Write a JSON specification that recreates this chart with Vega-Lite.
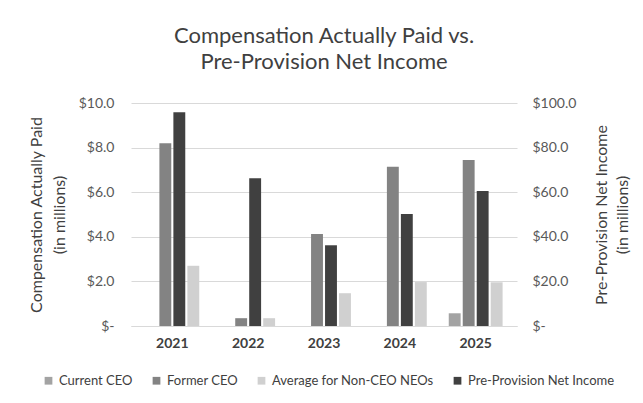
{
  "$schema": "https://vega.github.io/schema/vega-lite/v6.json",
  "autosize": "none",
  "width": 386,
  "height": 223,
  "padding": {"left": 131, "top": 103, "right": 126, "bottom": 77},
  "background": "white",
  "config": {
    "font": "Lato",
    "view": {"stroke": null},
    "axis": {"labelFont": "Lato", "titleFont": "Lato", "labelColor": "#595959", "titleColor": "#404040"}
  },
  "title": {
    "text": ["Compensation Actually Paid vs.", "Pre-Provision Net Income"],
    "fontSize": 22,
    "fontWeight": "normal",
    "color": "#404040",
    "font": "Lato",
    "lineHeight": 26,
    "offset": 22,
    "anchor": "middle"
  },
  "data": {
    "values": [
      {"year": "2021", "series": "Current CEO", "value": 0},
      {"year": "2021", "series": "Former CEO", "value": 8.2},
      {"year": "2021", "series": "Average for Non-CEO NEOs", "value": 2.7},
      {"year": "2021", "series": "Pre-Provision Net Income", "value": 95.8},
      {"year": "2022", "series": "Current CEO", "value": 0},
      {"year": "2022", "series": "Former CEO", "value": 0.35},
      {"year": "2022", "series": "Average for Non-CEO NEOs", "value": 0.35},
      {"year": "2022", "series": "Pre-Provision Net Income", "value": 66.2},
      {"year": "2023", "series": "Current CEO", "value": 0},
      {"year": "2023", "series": "Former CEO", "value": 4.13},
      {"year": "2023", "series": "Average for Non-CEO NEOs", "value": 1.47},
      {"year": "2023", "series": "Pre-Provision Net Income", "value": 36.2},
      {"year": "2024", "series": "Current CEO", "value": 0},
      {"year": "2024", "series": "Former CEO", "value": 7.14},
      {"year": "2024", "series": "Average for Non-CEO NEOs", "value": 1.97},
      {"year": "2024", "series": "Pre-Provision Net Income", "value": 50.2},
      {"year": "2025", "series": "Current CEO", "value": 0.57},
      {"year": "2025", "series": "Former CEO", "value": 7.44},
      {"year": "2025", "series": "Average for Non-CEO NEOs", "value": 1.96},
      {"year": "2025", "series": "Pre-Provision Net Income", "value": 60.5}
    ]
  },
  "encoding": {
    "x": {
      "field": "year", "type": "nominal",
      "scale": {"paddingInner": 0.29, "paddingOuter": 0.19},
      "axis": {
        "title": null, "labelAngle": 0, "labelFontSize": 14, "labelFontWeight": "bold",
        "labelColor": "#404040", "ticks": false, "domainColor": "#d9d9d9", "labelPadding": 10
      }
    },
    "xOffset": {
      "field": "series", "type": "nominal",
      "scale": {"domain": ["Current CEO", "Former CEO", "Pre-Provision Net Income", "Average for Non-CEO NEOs"], "paddingInner": 0.15}
    },
    "color": {
      "field": "series", "type": "nominal",
      "scale": {
        "domain": ["Current CEO", "Former CEO", "Average for Non-CEO NEOs", "Pre-Provision Net Income"],
        "range": ["#a3a3a3", "#838383", "#d0d0d0", "#404040"]
      },
      "legend": {
        "title": null, "orient": "none", "legendX": -89, "legendY": 271, "direction": "horizontal",
        "symbolType": "square", "symbolSize": 60, "labelFontSize": 13, "labelColor": "#404040",
        "labelFont": "Lato", "labelLimit": 0, "columnPadding": 17, "symbolOffset": 0
      }
    }
  },
  "layer": [
    {
      "transform": [{"filter": "datum.series !== 'Pre-Provision Net Income'"}],
      "mark": {"type": "bar"},
      "encoding": {
        "y": {
          "field": "value", "type": "quantitative",
          "scale": {"domain": [0, 10], "nice": false},
          "axis": {
            "title": ["Compensation Actually Paid", "(in millions)"],
            "titleFontSize": 16, "titleFontWeight": "normal", "titleLineHeight": 23,
            "labelFontSize": 14, "labelPadding": 17, "titlePadding": 11,
            "values": [0, 2, 4, 6, 8, 10],
            "labelExpr": "datum.value == 0 ? '$-' : '$' + format(datum.value, '.1f')",
            "grid": true, "gridColor": "#d9d9d9", "ticks": false, "domain": false
          }
        }
      }
    },
    {
      "transform": [{"filter": "datum.series === 'Pre-Provision Net Income'"}],
      "mark": {"type": "bar"},
      "encoding": {
        "y": {
          "field": "value", "type": "quantitative",
          "scale": {"domain": [0, 100], "nice": false},
          "axis": {
            "orient": "right",
            "title": ["Pre-Provision Net Income", "(in millions)"],
            "titleAngle": 270,
            "titleFontSize": 16, "titleFontWeight": "normal", "titleLineHeight": 21,
            "labelFontSize": 14, "labelPadding": 15, "titlePadding": 13,
            "values": [0, 20, 40, 60, 80, 100],
            "labelExpr": "datum.value == 0 ? '$-' : '$' + format(datum.value, '.1f')",
            "grid": false, "ticks": false, "domain": false
          }
        }
      }
    }
  ],
  "resolve": {"scale": {"y": "independent"}, "axis": {"y": "independent"}}
}
